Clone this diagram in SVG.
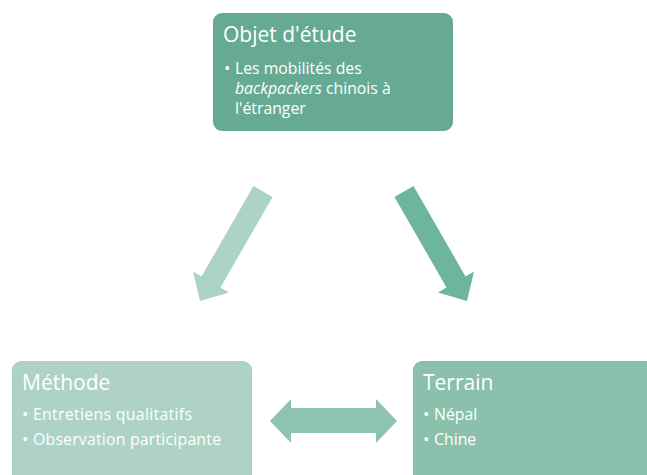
<svg xmlns="http://www.w3.org/2000/svg" width="647" height="475" viewBox="0 0 647 475">
<style>
text{font-family:"Open Sans","Noto Sans",sans-serif;fill:#ffffff}
.t{font-size:21px}
.b{font-size:15.8px}
.d{font-size:17px}
</style>
<rect width="647" height="475" fill="#ffffff"/>
<g id="connectors">
<polygon id="arrow-left" fill="#acd3c6" points="253.5,186 272.5,197 220.5,287.5 229,292.5 200,301 193,271.5 201.5,276.5"/>
<polygon id="arrow-right" fill="#6db59e" points="413.5,186 394.5,197 446.5,287.5 438,292.5 467,301 474,271.5 465.5,276.5"/>
<polygon id="arrow-double" fill="#8cc4b0" points="270,421 291,399 291,408 376,408 376,399 397,421 376,443 376,433 291,433 291,443"/>
</g>
<g id="objet">
<rect x="213" y="13" width="240" height="118" rx="9" fill="#67aa94"/>
<text class="t" x="223" y="42">Objet d'étude</text>
<text class="d" x="224" y="74">•</text>
<text class="b" x="235" y="74">Les mobilités des<tspan x="235" dy="20" font-style="italic">backpackers</tspan> chinois à<tspan x="235" dy="20">l'étranger</tspan></text>
</g>
<g id="methode">
<rect x="12" y="361" width="240" height="130" rx="9" fill="#aed3c6"/>
<text class="t" x="22" y="390">Méthode</text>
<text class="d" x="22" y="420">•<tspan x="22" dy="25">•</tspan></text>
<text class="b" x="33" y="420" textLength="159" lengthAdjust="spacing">Entretiens qualitatifs</text>
<text class="b" x="33" y="445" textLength="188" lengthAdjust="spacing">Observation participante</text>
</g>
<g id="terrain">
<rect x="413" y="361" width="250" height="130" rx="9" fill="#8bc0ac"/>
<text class="t" x="423" y="390">Terrain</text>
<text class="d" x="423" y="420">•<tspan x="423" dy="25">•</tspan></text>
<text class="b" x="434" y="420">Népal</text>
<text class="b" x="434" y="445">Chine</text>
</g>
</svg>
